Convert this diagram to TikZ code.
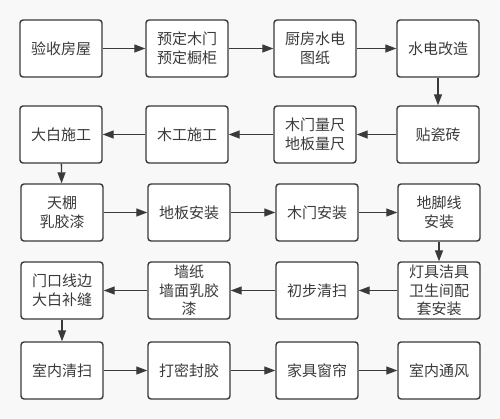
\documentclass[tikz,border=0pt]{standalone}
\usepackage{fontspec}
\setmainfont{Noto Sans CJK SC}
\usetikzlibrary{arrows.meta}
\definecolor{boxline}{HTML}{3A3A3A}
\definecolor{paper}{HTML}{F8F8F8}
\tikzset{
	stepbox/.style={draw=boxline, line width=1.4pt, rounded corners=3pt,
		fill=white, minimum width=82pt, minimum height=57pt, inner sep=0pt,
		align=center, text=boxline, font=\fontsize{15}{18.5}\selectfont},
	flow/.style={draw=boxline, line width=1.3pt,
		-{Triangle[length=11pt,width=8pt]}}
}
\begin{document}
\begin{tikzpicture}[x=1pt, y=-1pt]
\useasboundingbox[fill=paper] (0,0) rectangle (500,419);
% row 1
\node[stepbox] (n1) at (61,48.5) {验收房屋};
\node[stepbox] (n2) at (187,48.5) {预定木门\\预定橱柜};
\node[stepbox] (n3) at (315,48.5) {厨房水电\\图纸};
\node[stepbox] (n4) at (438,48.5) {水电改造};
% row 2
\node[stepbox] (n5) at (438,134.5) {贴瓷砖};
\node[stepbox] (n6) at (315,134.5) {木门量尺\\地板量尺};
\node[stepbox] (n7) at (187,134.5) {木工施工};
\node[stepbox] (n8) at (61,134.5) {大白施工};
% row 3
\node[stepbox] (n9) at (62,212.5) {天棚\\乳胶漆};
\node[stepbox] (n10) at (189,212.5) {地板安装};
\node[stepbox] (n11) at (317,212.5) {木门安装};
\node[stepbox] (n12) at (439,212.5) {地脚线\\安装};
% row 4
\node[stepbox] (n13) at (439,290.5) {灯具洁具\\卫生间配\\套安装};
\node[stepbox] (n14) at (317,290.5) {初步清扫};
\node[stepbox] (n15) at (189,290.5) {墙纸\\墙面乳胶\\漆};
\node[stepbox] (n16) at (62,290.5) {门口线边\\大白补缝};
% row 5
\node[stepbox] (n17) at (62,370.5) {室内清扫};
\node[stepbox] (n18) at (189,370.5) {打密封胶};
\node[stepbox] (n19) at (317,370.5) {家具窗帘};
\node[stepbox] (n20) at (439,370.5) {室内通风};
\foreach \i [count=\j from 2] in {1,...,19}
	\draw[flow] (n\i) -- (n\j);
\end{tikzpicture}
\end{document}
